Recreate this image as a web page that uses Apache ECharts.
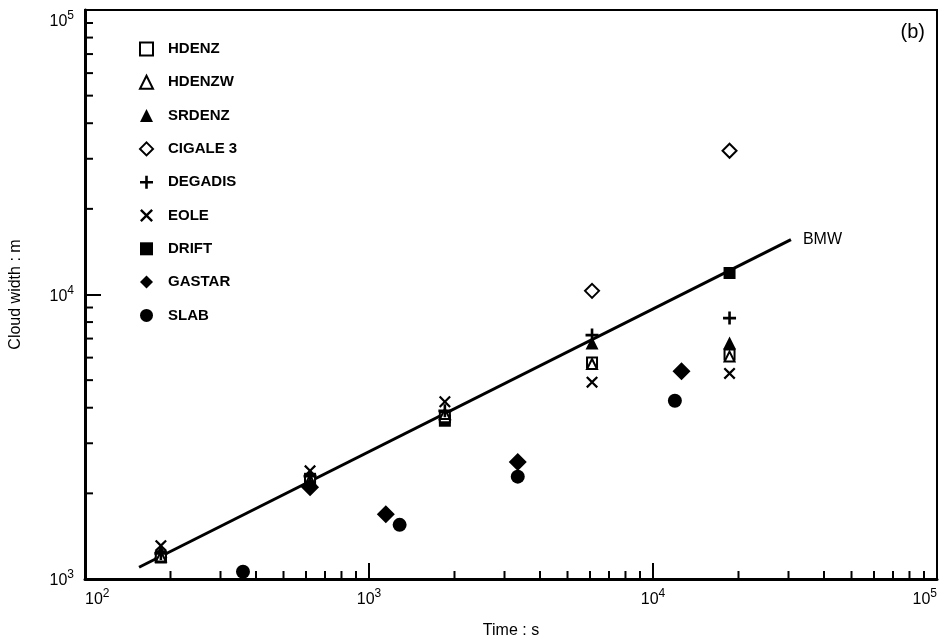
<!DOCTYPE html>
<html>
<head>
<meta charset="utf-8">
<script src="https://cdn.jsdelivr.net/npm/echarts@6/dist/echarts.min.js"></script>
<style>
html,body{margin:0;padding:0;background:#fff;}
#chart{width:947px;height:644px;}
</style>
</head>
<body>
<div id="chart"></div>
<script>
// ---- data ----
const HDENZ   = [[185,1190],[620,2230],[1850,3700],[6100,5770],[18600,6150]];
const HDENZW  = [[185,1200],[620,2230],[1850,3800],[6100,5700],[18600,6050]];
const SRDENZ  = [[185,1250],[620,2250],[1850,3800],[6100,6760],[18600,6760]];
const CIGALE3 = [[6100,10300],[18600,32000]];
const DEGADIS = [[185,1230],[620,2300],[1850,3900],[6100,7200],[18600,8260]];
const EOLE    = [[185,1310],[620,2400],[1850,4200],[6100,4920],[18600,5280]];
const DRIFT   = [[185,1200],[620,2250],[1850,3600],[18600,11900]];
const GASTAR  = [[620,2100],[1146,1690],[3340,2580],[12600,5370]];
const SLAB    = [[360,1060],[1282,1550],[3340,2290],[11940,4230]];
const BMW_T   = [155, 30600];
const BMW_W   = [1100, 15600];
const LEGEND_NAMES = ['HDENZ','HDENZW','SRDENZ','CIGALE 3','DEGADIS','EOLE','DRIFT','GASTAR','SLAB'];
const X_MIN = 100, X_MAX = 100000, Y_MIN = 1000, Y_MAX = 100000;
const MINOR_MULTS = [2,3,4,5,6,7,8,9];
const X_DECADES = [100, 1000, 10000];
const Y_DECADES = [1000, 10000];

const FONT = '"Liberation Sans", Arial, Helvetica, sans-serif';
const PLUS = 'path://M4,0 L6,0 L6,4 L10,4 L10,6 L6,6 L6,10 L4,10 L4,6 L0,6 L0,4 L4,4 Z';
const CROSS = 'path://M0,1.3 L1.3,0 L5,3.7 L8.7,0 L10,1.3 L6.3,5 L10,8.7 L8.7,10 L5,6.3 L1.3,10 L0,8.7 L3.7,5 Z';

const xMinor = X_DECADES.flatMap(d => MINOR_MULTS.map(m => [d*m, Y_MIN]));
const yMinor = Y_DECADES.flatMap(d => MINOR_MULTS.map(m => [X_MIN, d*m]));

const hollow = {color:'#fff', borderColor:'#000', borderWidth:2, opacity:1};
const filled = {color:'#000', borderWidth:0, opacity:1};

function pts(arr){ return arr.map(p => [p[0], p[1]]); }

const chart = echarts.init(document.getElementById('chart'), null, {renderer:'canvas'});

const expLabel = v => '{b|10}{s|' + Math.round(Math.log10(v)) + '}';
const richLab = {
  b:{fontSize:16, fontFamily:FONT, color:'#000', lineHeight:20, verticalAlign:'bottom'},
  s:{fontSize:12, fontFamily:FONT, color:'#000', lineHeight:12, verticalAlign:'top'}
};

const option = {
  backgroundColor:'#fff',
  animation:false,
  title:{text:'(b)', right:22, top:22, padding:0,
    textStyle:{fontSize:20, fontWeight:'normal', fontFamily:FONT, color:'#000'}},
  legend:{
    orient:'vertical', left:139, top:41, padding:0, itemWidth:13, itemHeight:13, itemGap:17.3,
    data:LEGEND_NAMES,
    textStyle:{fontSize:15, fontWeight:'bold', fontFamily:FONT, color:'#000', lineHeight:16, padding:[0,0,0,10]},
    itemStyle:{borderWidth:'inherit', opacity:1},
    selectedMode:false
  },
  grid:{left:79, right:10, top:10, bottom:56, show:true, borderColor:'#000', borderWidth:2, containLabel:false},
  xAxis:{
    type:'log', logBase:10, min:X_MIN, max:X_MAX,
    name:'Time : s', nameLocation:'middle', nameGap:44,
    nameTextStyle:{fontSize:16, fontFamily:FONT, color:'#000'},
    axisLine:{show:true, lineStyle:{color:'#000', width:3}},
    axisTick:{show:true, inside:true, length:16, lineStyle:{color:'#000', width:2}},
    minorTick:{show:false},
    splitLine:{show:false},
    axisLabel:{formatter:expLabel, rich:richLab, margin:9, alignMinLabel:'left', alignMaxLabel:'right'}
  },
  yAxis:{
    type:'log', logBase:10, min:Y_MIN, max:Y_MAX,
    name:'Cloud width : m', nameLocation:'middle', nameGap:61,
    nameTextStyle:{fontSize:16, fontFamily:FONT, color:'#000'},
    axisLine:{show:true, lineStyle:{color:'#000', width:3}},
    axisTick:{show:true, inside:true, length:16, lineStyle:{color:'#000', width:2}},
    minorTick:{show:false},
    splitLine:{show:false},
    axisLabel:{formatter:expLabel, rich:richLab, margin:11, verticalAlignMinLabel:'bottom', verticalAlignMaxLabel:'top'}
  },
  series:[
    {type:'custom', name:'xminor', silent:true, data:xMinor, z:5,
      renderItem:(params, api) => { const p = api.coord([api.value(0), api.value(1)]);
        return {type:'line', shape:{x1:p[0], y1:p[1], x2:p[0], y2:p[1]-8}, style:{stroke:'#000', lineWidth:2}}; }},
    {type:'custom', name:'yminor', silent:true, data:yMinor, z:5,
      renderItem:(params, api) => { const p = api.coord([api.value(0), api.value(1)]);
        return {type:'line', shape:{x1:p[0], y1:p[1], x2:p[0]+8, y2:p[1]}, style:{stroke:'#000', lineWidth:2}}; }},
    {type:'line', name:'BMW', data:BMW_T.map((t,i)=>[t, BMW_W[i]]), symbol:'none', silent:true,
      lineStyle:{color:'#000', width:3}, z:2,
      endLabel:{show:true, formatter:'BMW', distance:12, fontSize:16, fontFamily:FONT, color:'#000'}},
    {type:'scatter', name:'SRDENZ', data:pts(SRDENZ), symbol:'triangle', symbolSize:13, itemStyle:filled, z:3},
    {type:'scatter', name:'DRIFT', data:pts(DRIFT), symbol:'rect', symbolSize:12, itemStyle:filled, z:3},
    {type:'scatter', name:'HDENZ', data:pts(HDENZ), symbol:'rect', symbolSize:10, itemStyle:hollow, z:4},
    {type:'scatter', name:'HDENZW', data:pts(HDENZW), symbol:'triangle', symbolSize:10, itemStyle:hollow, z:4},
    {type:'scatter', name:'CIGALE 3', data:pts(CIGALE3), symbol:'diamond', symbolSize:14, itemStyle:hollow, z:4},
    {type:'scatter', name:'DEGADIS', data:pts(DEGADIS), symbol:PLUS, symbolSize:13, itemStyle:filled, z:4},
    {type:'scatter', name:'EOLE', data:pts(EOLE), symbol:CROSS, symbolSize:12, itemStyle:filled, z:4},
    {type:'scatter', name:'GASTAR', data:pts(GASTAR), symbol:'diamond', symbolSize:18, itemStyle:filled, z:4},
    {type:'scatter', name:'SLAB', data:pts(SLAB), symbol:'circle', symbolSize:14, itemStyle:filled, z:4}
  ]
};
chart.setOption(option);
</script>
</body>
</html>
